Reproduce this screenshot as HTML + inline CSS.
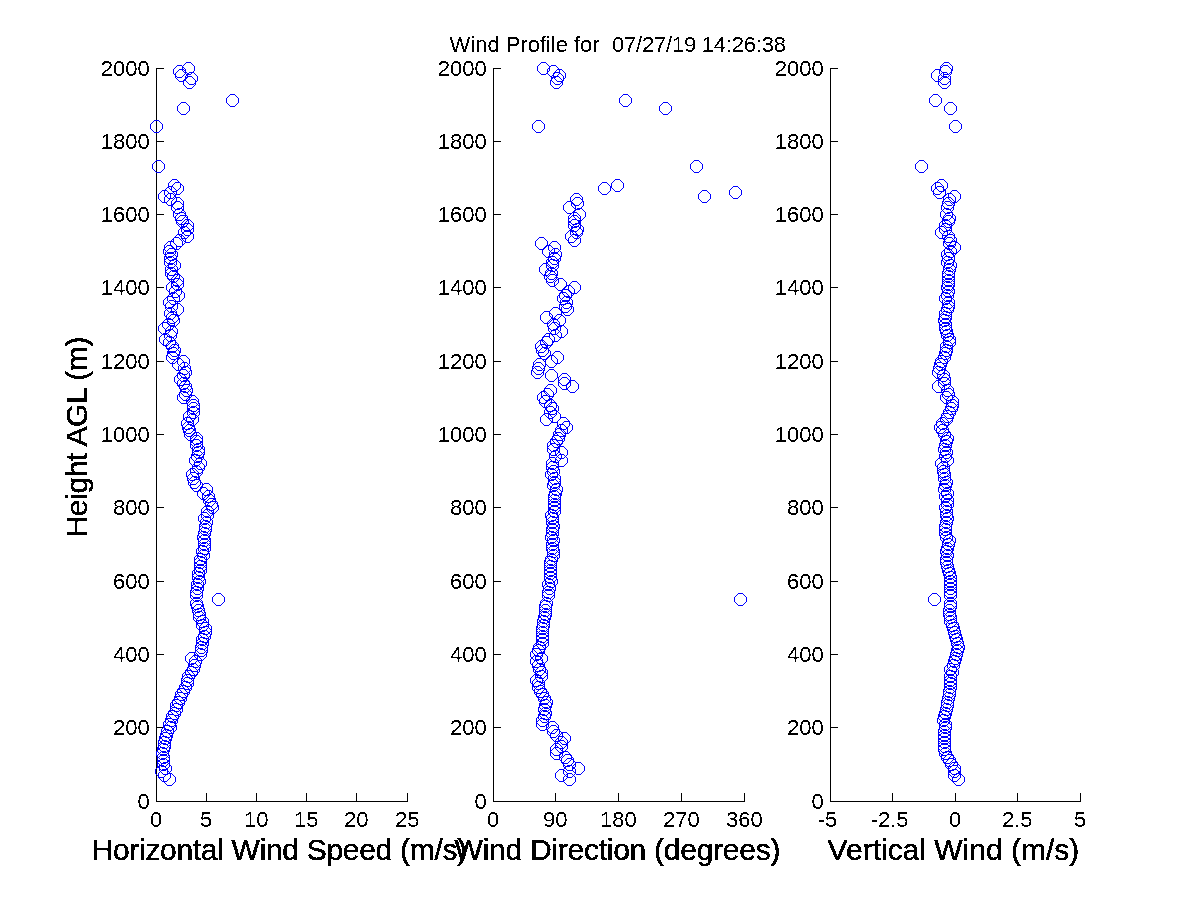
<!DOCTYPE html>
<html><head><meta charset="utf-8"><title>Wind Profile</title>
<style>
html,body{margin:0;padding:0;background:#fff;}
body{width:1200px;height:900px;overflow:hidden;font-family:"Liberation Sans",sans-serif;}
svg{display:block;}
text{font-family:"Liberation Sans",sans-serif;fill:#000;}
.t{font-size:22.0px;}
.l{font-size:30.0px;stroke:#000;stroke-width:0.4px;}
.ax{fill:#000;shape-rendering:crispEdges;}
.m{fill:#0000ff;shape-rendering:crispEdges;}
</style></head><body>
<svg width="1200" height="900" viewBox="0 0 1200 900">
<defs>
<filter id="na" x="0" y="0" width="100%" height="100%" filterUnits="userSpaceOnUse" color-interpolation-filters="sRGB">
<feComponentTransfer><feFuncA type="discrete" tableValues="0 1"/></feComponentTransfer>
</filter>
<path id="o" d="M-2-6h5v1h-5zM-2 6h5v1h-5zM-6-2h1v5h-1zM6-2h1v5h-1zM-3-5h1v1h-1zM-4-4h1v1h-1zM-5-3h1v1h-1zM3-5h1v1h-1zM4-4h1v1h-1zM5-3h1v1h-1zM-3 5h1v1h-1zM-4 4h1v1h-1zM-5 3h1v1h-1zM3 5h1v1h-1zM4 4h1v1h-1zM5 3h1v1h-1z"/>
</defs>
<rect x="0" y="0" width="1200" height="900" fill="#ffffff"/>
<path class="ax" d="M156 68h1v734h-1zM156 801h252v1h-252zM156 801h8v1h-8zM156 727h8v1h-8zM156 654h8v1h-8zM156 581h8v1h-8zM156 507h8v1h-8zM156 434h8v1h-8zM156 361h8v1h-8zM156 287h8v1h-8zM156 214h8v1h-8zM156 141h8v1h-8zM156 68h8v1h-8zM156 793h1v9h-1zM206 793h1v9h-1zM256 793h1v9h-1zM306 793h1v9h-1zM356 793h1v9h-1zM407 793h1v9h-1z"/>
<g class="m">
<use href="#o" x="169" y="779"/>
<use href="#o" x="164" y="775"/>
<use href="#o" x="161" y="771"/>
<use href="#o" x="165" y="768"/>
<use href="#o" x="163" y="764"/>
<use href="#o" x="163" y="760"/>
<use href="#o" x="163" y="757"/>
<use href="#o" x="162" y="753"/>
<use href="#o" x="163" y="749"/>
<use href="#o" x="164" y="746"/>
<use href="#o" x="164" y="742"/>
<use href="#o" x="165" y="738"/>
<use href="#o" x="166" y="735"/>
<use href="#o" x="167" y="731"/>
<use href="#o" x="170" y="727"/>
<use href="#o" x="169" y="724"/>
<use href="#o" x="171" y="720"/>
<use href="#o" x="172" y="716"/>
<use href="#o" x="174" y="713"/>
<use href="#o" x="176" y="709"/>
<use href="#o" x="176" y="705"/>
<use href="#o" x="178" y="702"/>
<use href="#o" x="180" y="698"/>
<use href="#o" x="181" y="694"/>
<use href="#o" x="183" y="691"/>
<use href="#o" x="185" y="687"/>
<use href="#o" x="187" y="683"/>
<use href="#o" x="187" y="680"/>
<use href="#o" x="188" y="676"/>
<use href="#o" x="191" y="672"/>
<use href="#o" x="193" y="669"/>
<use href="#o" x="194" y="665"/>
<use href="#o" x="195" y="661"/>
<use href="#o" x="191" y="658"/>
<use href="#o" x="200" y="654"/>
<use href="#o" x="201" y="650"/>
<use href="#o" x="201" y="647"/>
<use href="#o" x="202" y="643"/>
<use href="#o" x="202" y="639"/>
<use href="#o" x="204" y="636"/>
<use href="#o" x="205" y="632"/>
<use href="#o" x="205" y="628"/>
<use href="#o" x="202" y="625"/>
<use href="#o" x="202" y="621"/>
<use href="#o" x="199" y="617"/>
<use href="#o" x="199" y="614"/>
<use href="#o" x="198" y="610"/>
<use href="#o" x="197" y="606"/>
<use href="#o" x="196" y="603"/>
<use href="#o" x="218" y="599"/>
<use href="#o" x="196" y="595"/>
<use href="#o" x="196" y="592"/>
<use href="#o" x="197" y="588"/>
<use href="#o" x="197" y="584"/>
<use href="#o" x="199" y="581"/>
<use href="#o" x="198" y="577"/>
<use href="#o" x="198" y="573"/>
<use href="#o" x="200" y="570"/>
<use href="#o" x="200" y="566"/>
<use href="#o" x="200" y="562"/>
<use href="#o" x="200" y="559"/>
<use href="#o" x="203" y="555"/>
<use href="#o" x="202" y="551"/>
<use href="#o" x="204" y="548"/>
<use href="#o" x="204" y="544"/>
<use href="#o" x="204" y="540"/>
<use href="#o" x="203" y="537"/>
<use href="#o" x="204" y="533"/>
<use href="#o" x="205" y="529"/>
<use href="#o" x="205" y="526"/>
<use href="#o" x="206" y="522"/>
<use href="#o" x="204" y="518"/>
<use href="#o" x="207" y="515"/>
<use href="#o" x="207" y="511"/>
<use href="#o" x="212" y="507"/>
<use href="#o" x="211" y="504"/>
<use href="#o" x="209" y="500"/>
<use href="#o" x="208" y="496"/>
<use href="#o" x="203" y="493"/>
<use href="#o" x="206" y="489"/>
<use href="#o" x="196" y="485"/>
<use href="#o" x="194" y="482"/>
<use href="#o" x="193" y="478"/>
<use href="#o" x="192" y="474"/>
<use href="#o" x="196" y="471"/>
<use href="#o" x="198" y="467"/>
<use href="#o" x="200" y="463"/>
<use href="#o" x="195" y="460"/>
<use href="#o" x="197" y="456"/>
<use href="#o" x="198" y="452"/>
<use href="#o" x="198" y="449"/>
<use href="#o" x="196" y="445"/>
<use href="#o" x="196" y="441"/>
<use href="#o" x="196" y="438"/>
<use href="#o" x="190" y="434"/>
<use href="#o" x="189" y="430"/>
<use href="#o" x="188" y="427"/>
<use href="#o" x="187" y="423"/>
<use href="#o" x="192" y="419"/>
<use href="#o" x="189" y="416"/>
<use href="#o" x="193" y="412"/>
<use href="#o" x="193" y="408"/>
<use href="#o" x="193" y="405"/>
<use href="#o" x="192" y="401"/>
<use href="#o" x="183" y="397"/>
<use href="#o" x="185" y="394"/>
<use href="#o" x="186" y="390"/>
<use href="#o" x="185" y="386"/>
<use href="#o" x="183" y="383"/>
<use href="#o" x="180" y="379"/>
<use href="#o" x="183" y="375"/>
<use href="#o" x="185" y="372"/>
<use href="#o" x="184" y="368"/>
<use href="#o" x="178" y="364"/>
<use href="#o" x="183" y="361"/>
<use href="#o" x="172" y="357"/>
<use href="#o" x="173" y="353"/>
<use href="#o" x="174" y="350"/>
<use href="#o" x="172" y="346"/>
<use href="#o" x="169" y="342"/>
<use href="#o" x="165" y="339"/>
<use href="#o" x="170" y="335"/>
<use href="#o" x="171" y="331"/>
<use href="#o" x="164" y="328"/>
<use href="#o" x="168" y="324"/>
<use href="#o" x="173" y="320"/>
<use href="#o" x="172" y="317"/>
<use href="#o" x="170" y="313"/>
<use href="#o" x="177" y="309"/>
<use href="#o" x="171" y="306"/>
<use href="#o" x="169" y="302"/>
<use href="#o" x="173" y="298"/>
<use href="#o" x="178" y="295"/>
<use href="#o" x="175" y="291"/>
<use href="#o" x="172" y="287"/>
<use href="#o" x="177" y="284"/>
<use href="#o" x="177" y="280"/>
<use href="#o" x="173" y="276"/>
<use href="#o" x="171" y="273"/>
<use href="#o" x="171" y="269"/>
<use href="#o" x="174" y="265"/>
<use href="#o" x="170" y="262"/>
<use href="#o" x="170" y="258"/>
<use href="#o" x="171" y="254"/>
<use href="#o" x="169" y="251"/>
<use href="#o" x="170" y="247"/>
<use href="#o" x="176" y="243"/>
<use href="#o" x="179" y="240"/>
<use href="#o" x="187" y="236"/>
<use href="#o" x="184" y="232"/>
<use href="#o" x="187" y="229"/>
<use href="#o" x="187" y="225"/>
<use href="#o" x="182" y="221"/>
<use href="#o" x="181" y="218"/>
<use href="#o" x="179" y="214"/>
<use href="#o" x="177" y="207"/>
<use href="#o" x="177" y="203"/>
<use href="#o" x="170" y="199"/>
<use href="#o" x="164" y="196"/>
<use href="#o" x="170" y="192"/>
<use href="#o" x="177" y="188"/>
<use href="#o" x="174" y="185"/>
<use href="#o" x="158" y="166"/>
<use href="#o" x="156" y="126"/>
<use href="#o" x="183" y="108"/>
<use href="#o" x="232" y="100"/>
<use href="#o" x="189" y="82"/>
<use href="#o" x="191" y="78"/>
<use href="#o" x="181" y="75"/>
<use href="#o" x="179" y="71"/>
<use href="#o" x="188" y="68"/>
</g>
<path class="ax" d="M493 68h1v734h-1zM493 801h252v1h-252zM493 801h8v1h-8zM493 727h8v1h-8zM493 654h8v1h-8zM493 581h8v1h-8zM493 507h8v1h-8zM493 434h8v1h-8zM493 361h8v1h-8zM493 287h8v1h-8zM493 214h8v1h-8zM493 141h8v1h-8zM493 68h8v1h-8zM493 793h1v9h-1zM555 793h1v9h-1zM618 793h1v9h-1zM681 793h1v9h-1zM744 793h1v9h-1z"/>
<g class="m">
<use href="#o" x="569" y="779"/>
<use href="#o" x="561" y="775"/>
<use href="#o" x="569" y="771"/>
<use href="#o" x="578" y="768"/>
<use href="#o" x="569" y="764"/>
<use href="#o" x="567" y="760"/>
<use href="#o" x="565" y="757"/>
<use href="#o" x="556" y="753"/>
<use href="#o" x="556" y="749"/>
<use href="#o" x="561" y="746"/>
<use href="#o" x="561" y="742"/>
<use href="#o" x="564" y="738"/>
<use href="#o" x="556" y="735"/>
<use href="#o" x="553" y="731"/>
<use href="#o" x="552" y="727"/>
<use href="#o" x="542" y="724"/>
<use href="#o" x="542" y="720"/>
<use href="#o" x="544" y="716"/>
<use href="#o" x="545" y="713"/>
<use href="#o" x="544" y="709"/>
<use href="#o" x="545" y="705"/>
<use href="#o" x="546" y="702"/>
<use href="#o" x="544" y="698"/>
<use href="#o" x="542" y="694"/>
<use href="#o" x="540" y="691"/>
<use href="#o" x="538" y="687"/>
<use href="#o" x="538" y="683"/>
<use href="#o" x="536" y="680"/>
<use href="#o" x="541" y="676"/>
<use href="#o" x="541" y="672"/>
<use href="#o" x="539" y="669"/>
<use href="#o" x="538" y="665"/>
<use href="#o" x="536" y="661"/>
<use href="#o" x="541" y="658"/>
<use href="#o" x="536" y="654"/>
<use href="#o" x="538" y="650"/>
<use href="#o" x="539" y="647"/>
<use href="#o" x="542" y="643"/>
<use href="#o" x="542" y="639"/>
<use href="#o" x="542" y="636"/>
<use href="#o" x="542" y="632"/>
<use href="#o" x="542" y="628"/>
<use href="#o" x="543" y="625"/>
<use href="#o" x="543" y="621"/>
<use href="#o" x="544" y="617"/>
<use href="#o" x="545" y="614"/>
<use href="#o" x="545" y="610"/>
<use href="#o" x="545" y="606"/>
<use href="#o" x="546" y="603"/>
<use href="#o" x="740" y="599"/>
<use href="#o" x="548" y="595"/>
<use href="#o" x="548" y="592"/>
<use href="#o" x="549" y="588"/>
<use href="#o" x="548" y="584"/>
<use href="#o" x="551" y="581"/>
<use href="#o" x="550" y="577"/>
<use href="#o" x="550" y="573"/>
<use href="#o" x="550" y="570"/>
<use href="#o" x="550" y="566"/>
<use href="#o" x="550" y="562"/>
<use href="#o" x="551" y="559"/>
<use href="#o" x="553" y="555"/>
<use href="#o" x="553" y="551"/>
<use href="#o" x="552" y="548"/>
<use href="#o" x="552" y="544"/>
<use href="#o" x="553" y="540"/>
<use href="#o" x="551" y="537"/>
<use href="#o" x="552" y="533"/>
<use href="#o" x="552" y="529"/>
<use href="#o" x="553" y="526"/>
<use href="#o" x="552" y="522"/>
<use href="#o" x="552" y="518"/>
<use href="#o" x="551" y="515"/>
<use href="#o" x="554" y="511"/>
<use href="#o" x="554" y="507"/>
<use href="#o" x="554" y="504"/>
<use href="#o" x="554" y="500"/>
<use href="#o" x="554" y="496"/>
<use href="#o" x="555" y="493"/>
<use href="#o" x="556" y="489"/>
<use href="#o" x="553" y="485"/>
<use href="#o" x="554" y="482"/>
<use href="#o" x="554" y="478"/>
<use href="#o" x="551" y="474"/>
<use href="#o" x="553" y="471"/>
<use href="#o" x="552" y="467"/>
<use href="#o" x="552" y="463"/>
<use href="#o" x="561" y="460"/>
<use href="#o" x="555" y="456"/>
<use href="#o" x="561" y="452"/>
<use href="#o" x="553" y="449"/>
<use href="#o" x="553" y="445"/>
<use href="#o" x="556" y="441"/>
<use href="#o" x="558" y="438"/>
<use href="#o" x="559" y="434"/>
<use href="#o" x="561" y="430"/>
<use href="#o" x="566" y="427"/>
<use href="#o" x="563" y="423"/>
<use href="#o" x="546" y="419"/>
<use href="#o" x="554" y="416"/>
<use href="#o" x="550" y="412"/>
<use href="#o" x="552" y="408"/>
<use href="#o" x="550" y="405"/>
<use href="#o" x="545" y="401"/>
<use href="#o" x="543" y="397"/>
<use href="#o" x="547" y="394"/>
<use href="#o" x="550" y="390"/>
<use href="#o" x="572" y="386"/>
<use href="#o" x="564" y="383"/>
<use href="#o" x="564" y="379"/>
<use href="#o" x="551" y="375"/>
<use href="#o" x="537" y="372"/>
<use href="#o" x="538" y="368"/>
<use href="#o" x="539" y="364"/>
<use href="#o" x="551" y="361"/>
<use href="#o" x="557" y="357"/>
<use href="#o" x="544" y="353"/>
<use href="#o" x="542" y="350"/>
<use href="#o" x="541" y="346"/>
<use href="#o" x="546" y="342"/>
<use href="#o" x="548" y="339"/>
<use href="#o" x="555" y="335"/>
<use href="#o" x="561" y="331"/>
<use href="#o" x="554" y="328"/>
<use href="#o" x="553" y="324"/>
<use href="#o" x="559" y="320"/>
<use href="#o" x="546" y="317"/>
<use href="#o" x="555" y="313"/>
<use href="#o" x="567" y="309"/>
<use href="#o" x="565" y="306"/>
<use href="#o" x="566" y="302"/>
<use href="#o" x="563" y="298"/>
<use href="#o" x="565" y="295"/>
<use href="#o" x="568" y="291"/>
<use href="#o" x="574" y="287"/>
<use href="#o" x="560" y="284"/>
<use href="#o" x="552" y="280"/>
<use href="#o" x="550" y="276"/>
<use href="#o" x="551" y="273"/>
<use href="#o" x="545" y="269"/>
<use href="#o" x="552" y="265"/>
<use href="#o" x="552" y="262"/>
<use href="#o" x="554" y="258"/>
<use href="#o" x="555" y="254"/>
<use href="#o" x="548" y="251"/>
<use href="#o" x="554" y="247"/>
<use href="#o" x="541" y="243"/>
<use href="#o" x="574" y="240"/>
<use href="#o" x="571" y="236"/>
<use href="#o" x="576" y="232"/>
<use href="#o" x="577" y="229"/>
<use href="#o" x="574" y="225"/>
<use href="#o" x="574" y="221"/>
<use href="#o" x="574" y="218"/>
<use href="#o" x="579" y="214"/>
<use href="#o" x="569" y="207"/>
<use href="#o" x="577" y="203"/>
<use href="#o" x="576" y="199"/>
<use href="#o" x="704" y="196"/>
<use href="#o" x="735" y="192"/>
<use href="#o" x="604" y="188"/>
<use href="#o" x="617" y="185"/>
<use href="#o" x="696" y="166"/>
<use href="#o" x="538" y="126"/>
<use href="#o" x="665" y="108"/>
<use href="#o" x="625" y="100"/>
<use href="#o" x="556" y="82"/>
<use href="#o" x="557" y="78"/>
<use href="#o" x="559" y="75"/>
<use href="#o" x="553" y="71"/>
<use href="#o" x="543" y="68"/>
</g>
<path class="ax" d="M830 68h1v734h-1zM830 801h251v1h-251zM830 801h8v1h-8zM830 727h8v1h-8zM830 654h8v1h-8zM830 581h8v1h-8zM830 507h8v1h-8zM830 434h8v1h-8zM830 361h8v1h-8zM830 287h8v1h-8zM830 214h8v1h-8zM830 141h8v1h-8zM830 68h8v1h-8zM830 793h1v9h-1zM892 793h1v9h-1zM955 793h1v9h-1zM1017 793h1v9h-1zM1080 793h1v9h-1z"/>
<g class="m">
<use href="#o" x="958" y="779"/>
<use href="#o" x="954" y="775"/>
<use href="#o" x="954" y="771"/>
<use href="#o" x="954" y="768"/>
<use href="#o" x="951" y="764"/>
<use href="#o" x="949" y="760"/>
<use href="#o" x="947" y="757"/>
<use href="#o" x="945" y="753"/>
<use href="#o" x="944" y="749"/>
<use href="#o" x="944" y="746"/>
<use href="#o" x="944" y="742"/>
<use href="#o" x="944" y="738"/>
<use href="#o" x="944" y="735"/>
<use href="#o" x="944" y="731"/>
<use href="#o" x="945" y="727"/>
<use href="#o" x="945" y="724"/>
<use href="#o" x="943" y="720"/>
<use href="#o" x="944" y="716"/>
<use href="#o" x="945" y="713"/>
<use href="#o" x="946" y="709"/>
<use href="#o" x="947" y="705"/>
<use href="#o" x="947" y="702"/>
<use href="#o" x="948" y="698"/>
<use href="#o" x="949" y="694"/>
<use href="#o" x="949" y="691"/>
<use href="#o" x="950" y="687"/>
<use href="#o" x="950" y="683"/>
<use href="#o" x="950" y="680"/>
<use href="#o" x="950" y="676"/>
<use href="#o" x="952" y="672"/>
<use href="#o" x="950" y="669"/>
<use href="#o" x="953" y="665"/>
<use href="#o" x="954" y="661"/>
<use href="#o" x="955" y="658"/>
<use href="#o" x="956" y="654"/>
<use href="#o" x="957" y="650"/>
<use href="#o" x="958" y="647"/>
<use href="#o" x="957" y="643"/>
<use href="#o" x="956" y="639"/>
<use href="#o" x="955" y="636"/>
<use href="#o" x="954" y="632"/>
<use href="#o" x="953" y="628"/>
<use href="#o" x="952" y="625"/>
<use href="#o" x="950" y="621"/>
<use href="#o" x="950" y="617"/>
<use href="#o" x="949" y="614"/>
<use href="#o" x="949" y="610"/>
<use href="#o" x="950" y="606"/>
<use href="#o" x="950" y="603"/>
<use href="#o" x="934" y="599"/>
<use href="#o" x="950" y="595"/>
<use href="#o" x="950" y="592"/>
<use href="#o" x="950" y="588"/>
<use href="#o" x="950" y="584"/>
<use href="#o" x="950" y="581"/>
<use href="#o" x="950" y="577"/>
<use href="#o" x="949" y="573"/>
<use href="#o" x="948" y="570"/>
<use href="#o" x="947" y="566"/>
<use href="#o" x="946" y="562"/>
<use href="#o" x="946" y="559"/>
<use href="#o" x="947" y="555"/>
<use href="#o" x="946" y="551"/>
<use href="#o" x="947" y="548"/>
<use href="#o" x="948" y="544"/>
<use href="#o" x="949" y="540"/>
<use href="#o" x="946" y="537"/>
<use href="#o" x="945" y="533"/>
<use href="#o" x="945" y="529"/>
<use href="#o" x="945" y="526"/>
<use href="#o" x="946" y="522"/>
<use href="#o" x="947" y="518"/>
<use href="#o" x="946" y="515"/>
<use href="#o" x="946" y="511"/>
<use href="#o" x="945" y="507"/>
<use href="#o" x="947" y="504"/>
<use href="#o" x="947" y="500"/>
<use href="#o" x="945" y="496"/>
<use href="#o" x="947" y="493"/>
<use href="#o" x="944" y="489"/>
<use href="#o" x="945" y="485"/>
<use href="#o" x="946" y="482"/>
<use href="#o" x="944" y="478"/>
<use href="#o" x="944" y="474"/>
<use href="#o" x="943" y="471"/>
<use href="#o" x="943" y="467"/>
<use href="#o" x="941" y="463"/>
<use href="#o" x="947" y="460"/>
<use href="#o" x="945" y="456"/>
<use href="#o" x="946" y="452"/>
<use href="#o" x="944" y="449"/>
<use href="#o" x="945" y="445"/>
<use href="#o" x="946" y="441"/>
<use href="#o" x="947" y="438"/>
<use href="#o" x="944" y="434"/>
<use href="#o" x="942" y="430"/>
<use href="#o" x="940" y="427"/>
<use href="#o" x="942" y="423"/>
<use href="#o" x="946" y="419"/>
<use href="#o" x="947" y="416"/>
<use href="#o" x="949" y="412"/>
<use href="#o" x="951" y="408"/>
<use href="#o" x="952" y="405"/>
<use href="#o" x="952" y="401"/>
<use href="#o" x="946" y="397"/>
<use href="#o" x="948" y="394"/>
<use href="#o" x="947" y="390"/>
<use href="#o" x="938" y="386"/>
<use href="#o" x="944" y="383"/>
<use href="#o" x="944" y="379"/>
<use href="#o" x="943" y="375"/>
<use href="#o" x="938" y="372"/>
<use href="#o" x="939" y="368"/>
<use href="#o" x="940" y="364"/>
<use href="#o" x="941" y="361"/>
<use href="#o" x="944" y="357"/>
<use href="#o" x="945" y="353"/>
<use href="#o" x="946" y="350"/>
<use href="#o" x="946" y="346"/>
<use href="#o" x="949" y="342"/>
<use href="#o" x="949" y="339"/>
<use href="#o" x="947" y="335"/>
<use href="#o" x="946" y="331"/>
<use href="#o" x="945" y="328"/>
<use href="#o" x="945" y="324"/>
<use href="#o" x="944" y="320"/>
<use href="#o" x="945" y="317"/>
<use href="#o" x="945" y="313"/>
<use href="#o" x="947" y="309"/>
<use href="#o" x="948" y="306"/>
<use href="#o" x="948" y="302"/>
<use href="#o" x="945" y="298"/>
<use href="#o" x="947" y="295"/>
<use href="#o" x="948" y="291"/>
<use href="#o" x="947" y="287"/>
<use href="#o" x="948" y="284"/>
<use href="#o" x="948" y="280"/>
<use href="#o" x="948" y="276"/>
<use href="#o" x="948" y="273"/>
<use href="#o" x="949" y="269"/>
<use href="#o" x="950" y="265"/>
<use href="#o" x="947" y="262"/>
<use href="#o" x="948" y="258"/>
<use href="#o" x="947" y="254"/>
<use href="#o" x="950" y="251"/>
<use href="#o" x="954" y="247"/>
<use href="#o" x="949" y="243"/>
<use href="#o" x="950" y="240"/>
<use href="#o" x="948" y="236"/>
<use href="#o" x="941" y="232"/>
<use href="#o" x="945" y="229"/>
<use href="#o" x="945" y="225"/>
<use href="#o" x="948" y="221"/>
<use href="#o" x="949" y="218"/>
<use href="#o" x="946" y="214"/>
<use href="#o" x="947" y="207"/>
<use href="#o" x="948" y="203"/>
<use href="#o" x="949" y="199"/>
<use href="#o" x="954" y="196"/>
<use href="#o" x="939" y="192"/>
<use href="#o" x="937" y="188"/>
<use href="#o" x="941" y="185"/>
<use href="#o" x="921" y="166"/>
<use href="#o" x="955" y="126"/>
<use href="#o" x="950" y="108"/>
<use href="#o" x="935" y="100"/>
<use href="#o" x="944" y="82"/>
<use href="#o" x="944" y="78"/>
<use href="#o" x="937" y="75"/>
<use href="#o" x="945" y="71"/>
<use href="#o" x="946" y="68"/>
</g>
<g filter="url(#na)">
<text class="t" x="449.6" y="52" textLength="150">Wind Profile for</text>
<text class="t" x="612" y="51.78" textLength="174">07/27/19 14:26:38</text>
<text class="t" x="149.8" y="808.78" text-anchor="end">0</text>
<text class="t" x="149.8" y="734.78" text-anchor="end">200</text>
<text class="t" x="149.8" y="661.78" text-anchor="end">400</text>
<text class="t" x="149.8" y="588.78" text-anchor="end">600</text>
<text class="t" x="149.8" y="514.78" text-anchor="end">800</text>
<text class="t" x="149.8" y="441.78" text-anchor="end">1000</text>
<text class="t" x="149.8" y="368.78" text-anchor="end">1200</text>
<text class="t" x="149.8" y="294.78" text-anchor="end">1400</text>
<text class="t" x="149.8" y="221.78" text-anchor="end">1600</text>
<text class="t" x="149.8" y="148.78" text-anchor="end">1800</text>
<text class="t" x="149.8" y="75.78" text-anchor="end">2000</text>
<text class="t" x="150" y="826.78">0</text>
<text class="t" x="200" y="826.78">5</text>
<text class="t" x="244" y="826.78">10</text>
<text class="t" x="294" y="826.78">15</text>
<text class="t" x="344" y="826.78">20</text>
<text class="t" x="395" y="826.78">25</text>
<text class="l" x="91.6" y="860" textLength="375.5">Horizontal Wind Speed (m/s)</text>
<text class="t" x="486.8" y="808.78" text-anchor="end">0</text>
<text class="t" x="486.8" y="734.78" text-anchor="end">200</text>
<text class="t" x="486.8" y="661.78" text-anchor="end">400</text>
<text class="t" x="486.8" y="588.78" text-anchor="end">600</text>
<text class="t" x="486.8" y="514.78" text-anchor="end">800</text>
<text class="t" x="486.8" y="441.78" text-anchor="end">1000</text>
<text class="t" x="486.8" y="368.78" text-anchor="end">1200</text>
<text class="t" x="486.8" y="294.78" text-anchor="end">1400</text>
<text class="t" x="486.8" y="221.78" text-anchor="end">1600</text>
<text class="t" x="486.8" y="148.78" text-anchor="end">1800</text>
<text class="t" x="486.8" y="75.78" text-anchor="end">2000</text>
<text class="t" x="487" y="826.78">0</text>
<text class="t" x="543" y="826.78">90</text>
<text class="t" x="600" y="826.78">180</text>
<text class="t" x="663" y="826.78">270</text>
<text class="t" x="726" y="826.78">360</text>
<text class="l" x="454.6" y="860" textLength="325.8">Wind Direction (degrees)</text>
<text class="t" x="823.8" y="808.78" text-anchor="end">0</text>
<text class="t" x="823.8" y="734.78" text-anchor="end">200</text>
<text class="t" x="823.8" y="661.78" text-anchor="end">400</text>
<text class="t" x="823.8" y="588.78" text-anchor="end">600</text>
<text class="t" x="823.8" y="514.78" text-anchor="end">800</text>
<text class="t" x="823.8" y="441.78" text-anchor="end">1000</text>
<text class="t" x="823.8" y="368.78" text-anchor="end">1200</text>
<text class="t" x="823.8" y="294.78" text-anchor="end">1400</text>
<text class="t" x="823.8" y="221.78" text-anchor="end">1600</text>
<text class="t" x="823.8" y="148.78" text-anchor="end">1800</text>
<text class="t" x="823.8" y="75.78" text-anchor="end">2000</text>
<text class="t" x="817.7" y="826.78">-5</text>
<text class="t" x="870.7" y="826.78">-2.5</text>
<text class="t" x="949" y="826.78">0</text>
<text class="t" x="1002" y="826.78">2.5</text>
<text class="t" x="1074" y="826.78">5</text>
<text class="l" x="827.6" y="860" textLength="251.7">Vertical Wind (m/s)</text>
<text class="l" transform="translate(87,437) rotate(-90)" text-anchor="middle" textLength="201">Height AGL (m)</text>
</g>
</svg>
</body></html>
